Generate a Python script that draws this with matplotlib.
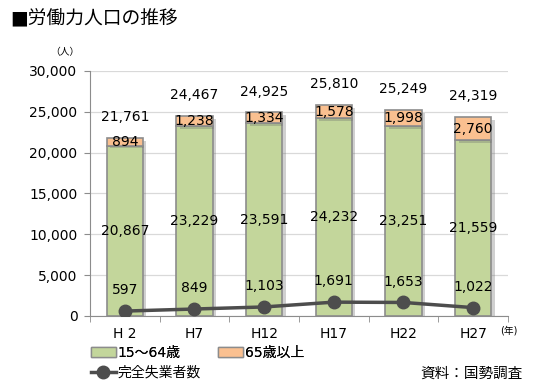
import matplotlib
matplotlib.use("Agg")
import matplotlib.pyplot as plt
import matplotlib.patheffects as pe
from matplotlib.patches import Patch
import numpy as np

plt.rcParams['font.family'] = ['DejaVu Sans', 'Noto Sans CJK JP']

years = ["H 2", "H7", "H12", "H17", "H22", "H27"]
age_15_64 = [20867, 23229, 23591, 24232, 23251, 21559]
age_65_over = [894, 1238, 1334, 1578, 1998, 2760]
totals = [21761, 24467, 24925, 25810, 25249, 24319]
unemployed = [597, 849, 1103, 1691, 1653, 1022]

green = "#c3d69b"
orange = "#fac090"
edge = "#8c8c8c"
x = np.arange(len(years))

fig = plt.figure(figsize=(5.5, 3.92), dpi=100)
ax = fig.add_axes([0.1636, 0.194, 0.76, 0.625])

shadow = [pe.SimplePatchShadow(offset=(2.5, -2), alpha=0.3, shadow_rgbFace="#666666"), pe.Normal()]
b1 = ax.bar(x, age_15_64, width=0.52, color=green, edgecolor=edge, linewidth=1.2, zorder=2)
b2 = ax.bar(x, age_65_over, width=0.52, bottom=age_15_64, color=orange, edgecolor=edge,
            linewidth=1.2, zorder=2)
for r in list(b1) + list(b2):
    r.set_path_effects(shadow)

ln, = ax.plot(x, unemployed, color="#4d4d4d", lw=2.5, marker="o", ms=9,
              label="完全失業者数", zorder=4)

fs = 10
for i in range(len(years)):
    ax.text(x[i], age_15_64[i] / 2, f"{age_15_64[i]:,}", ha="center", va="center", fontsize=fs, zorder=5)
    ax.text(x[i], age_15_64[i] + age_65_over[i] / 2, f"{age_65_over[i]:,}", ha="center",
            va="center", fontsize=fs, zorder=5)
    ax.annotate(f"{totals[i]:,}", (x[i], totals[i]), xytext=(0, 10), textcoords="offset points",
                ha="center", va="bottom", fontsize=fs)
    ax.annotate(f"{unemployed[i]:,}", (x[i], unemployed[i]), xytext=(0, 10), textcoords="offset points",
                ha="center", va="bottom", fontsize=fs, zorder=5)

ax.set_xlim(-0.5, len(years) - 0.5)
ax.set_ylim(0, 30000)
ax.set_yticks(range(0, 30001, 5000))
ax.set_yticklabels([f"{v:,}" for v in range(0, 30001, 5000)], fontsize=10)
ax.set_xticks(x)
ax.set_xticklabels(years, fontsize=10)
ax.set_xticks(np.arange(-0.5, len(years), 1), minor=True)
ax.tick_params(axis="x", which="major", length=0, pad=8)
ax.tick_params(axis="x", which="minor", length=4, direction="out", color=edge)
ax.tick_params(axis="y", length=4, color=edge, pad=5)
ax.grid(axis="y", color="#d9d9d9", lw=0.9, zorder=0)
ax.set_axisbelow(True)
for s in ["top", "right"]:
    ax.spines[s].set_visible(False)
for s in ["left", "bottom"]:
    ax.spines[s].set_color(edge)

fig.text(0.018, 0.953, "■労働力人口の推移", fontsize=13.5, va="center", ha="left")
fig.text(0.118, 0.868, "（人）", fontsize=7, va="center", ha="center")
fig.text(0.925, 0.158, "(年)", fontsize=7, va="center", ha="center")
fig.text(0.95, 0.048, "資料：国勢調査", fontsize=10.5, va="center", ha="right")

h1 = Patch(facecolor=green, edgecolor=edge, label="15～64歳")
h2 = Patch(facecolor=orange, edgecolor=edge, label="65歳以上")
leg1 = fig.legend(handles=[h1, h2], loc="lower left", bbox_to_anchor=(0.155, 0.068), ncol=2,
                  frameon=False, fontsize=10, handlelength=1.8, handleheight=0.8,
                  columnspacing=2.7, handletextpad=0.15, borderaxespad=0)
fig.legend(handles=[ln], loc="lower left", bbox_to_anchor=(0.155, 0.018), frameon=False,
           fontsize=10, handlelength=1.8, handletextpad=0.15, borderaxespad=0)
fig.add_artist(leg1)

fig.savefig("out.png", dpi=100)
